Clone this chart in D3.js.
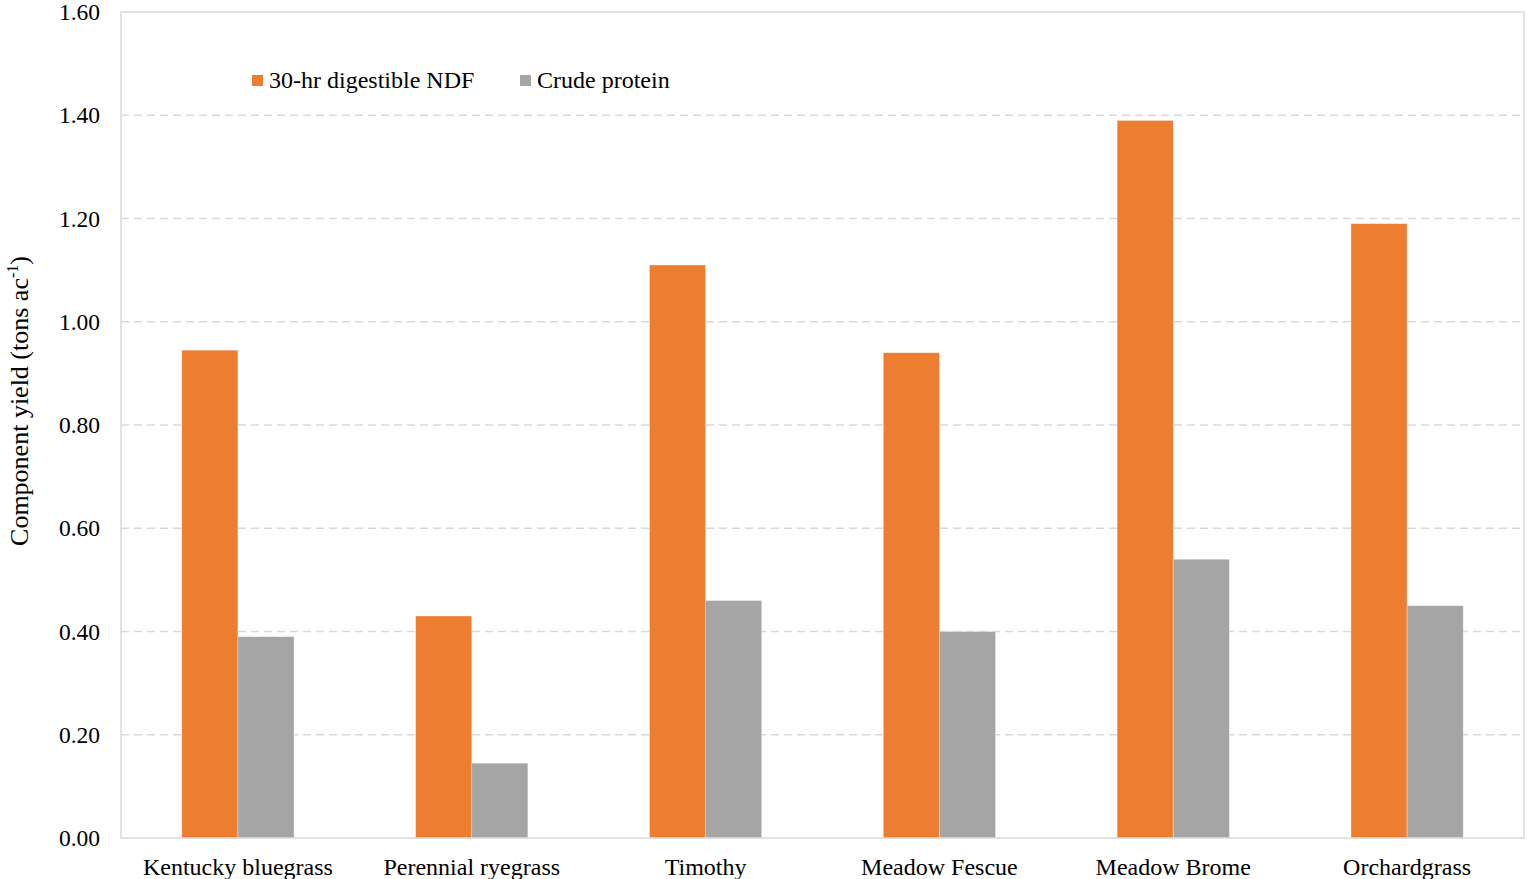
<!DOCTYPE html>
<html>
<head>
<meta charset="utf-8">
<script src="https://cdn.jsdelivr.net/npm/d3@7"></script>
<style>
  html, body { margin: 0; padding: 0; background: #fff; }
  svg { display: block; font-family: "Liberation Serif", "Times New Roman", serif; }
</style>
</head>
<body>
<svg id="chart" width="1528" height="879"></svg>
<script>
// Forage grass component yields (tons per acre)
const categories = ["Kentucky bluegrass", "Perennial ryegrass", "Timothy", "Meadow Fescue", "Meadow Brome", "Orchardgrass"];
const seriesNames = ["30-hr digestible NDF", "Crude protein"];
const ndfValues = [0.945, 0.43, 1.11, 0.94, 1.39, 1.19];
const proteinValues = [0.39, 0.145, 0.46, 0.40, 0.54, 0.45];
const yTicks = [0, 0.2, 0.4, 0.6, 0.8, 1.0, 1.2, 1.4, 1.6];
const colors = ["#ED7D31", "#A5A5A5"];

const svg = d3.select("#chart");
const margin = { left: 121, top: 12, right: 1524, bottom: 838 };
const fontFamily = "Liberation Serif, Times New Roman, serif";

const x = d3.scaleBand().domain(categories).range([margin.left, margin.right]).padding(0);
const xs = d3.scaleBand().domain(seriesNames).range([0, x.bandwidth()]).paddingInner(0).paddingOuter(1.0833);
const y = d3.scaleLinear().domain([0, 1.6]).range([margin.bottom, margin.top]);

// dashed gridlines
svg.append("g")
  .selectAll("line")
  .data(yTicks.filter(t => t > 0 && t < 1.6))
  .join("line")
  .attr("x1", margin.left).attr("x2", margin.right)
  .attr("y1", d => y(d)).attr("y2", d => y(d))
  .attr("stroke", "#d9d9d9").attr("stroke-width", 1.5)
  .attr("stroke-dasharray", "8,5");

// bars
const rows = categories.map((c, i) => ({ cat: c, vals: [ndfValues[i], proteinValues[i]] }));
const groups = svg.append("g").selectAll("g")
  .data(rows).join("g")
  .attr("transform", d => `translate(${x(d.cat)},0)`);
groups.selectAll("rect")
  .data(d => d.vals.map((v, j) => ({ name: seriesNames[j], v, j })))
  .join("rect")
  .attr("x", d => xs(d.name))
  .attr("width", xs.bandwidth())
  .attr("y", d => y(d.v))
  .attr("height", d => y(0) - y(d.v))
  .attr("fill", d => colors[d.j])
  .attr("stroke", "rgba(255,255,255,0.45)")
  .attr("stroke-width", 0.75);

// plot border
svg.append("rect")
  .attr("x", margin.left).attr("y", margin.top)
  .attr("width", margin.right - margin.left)
  .attr("height", margin.bottom - margin.top)
  .attr("fill", "none").attr("stroke", "#d9d9d9").attr("stroke-width", 1.5);

// y axis labels
const yAxis = d3.axisLeft(y).tickValues(yTicks).tickFormat(d3.format(".2f")).tickSize(0).tickPadding(21);
const yg = svg.append("g").attr("transform", `translate(${margin.left},0)`).call(yAxis);
yg.select(".domain").remove();
yg.selectAll("text").attr("font-size", 23.5).attr("fill", "#000").attr("font-family", fontFamily);

// x axis labels
const xAxis = d3.axisBottom(x).tickSize(0).tickPadding(20);
const xg = svg.append("g").attr("transform", `translate(0,${margin.bottom})`).call(xAxis);
xg.select(".domain").remove();
xg.selectAll("text").attr("font-size", 24).attr("fill", "#000").attr("font-family", fontFamily);

// y axis title
const title = svg.append("text")
  .attr("transform", `translate(28,${(margin.top + margin.bottom) / 2 - 24}) rotate(-90)`)
  .attr("text-anchor", "middle")
  .attr("font-size", 26)
  .attr("fill", "#000");
title.append("tspan").text("Component yield (tons ac");
title.append("tspan").attr("dy", -10).attr("font-size", 16).text("-1");
title.append("tspan").attr("dy", 10).text(")");

// legend
const legendPos = [252, 520];
const legend = svg.append("g").selectAll("g")
  .data(seriesNames).join("g")
  .attr("transform", (d, i) => `translate(${legendPos[i]},75)`);
legend.append("rect").attr("width", 11).attr("height", 11).attr("fill", (d, i) => colors[i]);
legend.append("text").attr("x", 17).attr("y", 13).attr("font-size", 24).attr("fill", "#000").text(d => d);
</script>
</body>
</html>
